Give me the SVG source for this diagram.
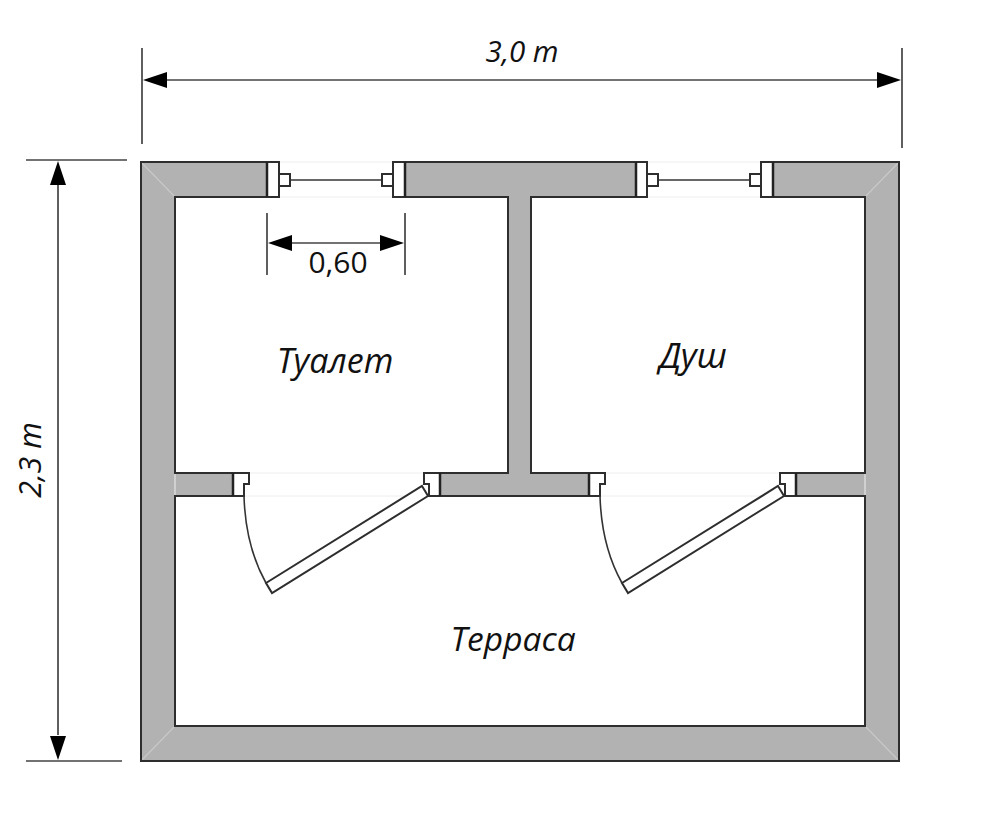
<svg xmlns="http://www.w3.org/2000/svg" width="1000" height="824" viewBox="0 0 1000 824">
<style>
.wall{fill:#b2b2b2;stroke:none}
.edge{fill:none;stroke:#2e2e2e;stroke-width:2}
.thick{fill:none;stroke:#222;stroke-width:2.5}
.jamb{fill:#fff;stroke:#2e2e2e;stroke-width:2}
.thin{fill:none;stroke:#333;stroke-width:1.6}
.faint{fill:none;stroke:#eeeeee;stroke-width:1}
.miter{fill:none;stroke:#c8c8c8;stroke-width:1.2}
.dim{fill:none;stroke:#444;stroke-width:1.7}
.head{fill:#000}
text{font-family:"Open Sans","DejaVu Sans",sans-serif;fill:#111}
.lbl{font-style:italic;text-anchor:middle}
</style>
<g id="walls">
<path class="wall" fill-rule="evenodd" d="M141 162H899V761H141ZM175 197V473H508V197ZM531 197V473H865V197ZM175 496V726H865V496Z"/>
<rect x="267" y="160" width="138" height="39" fill="#fff"/>
<rect x="636" y="160" width="137" height="39" fill="#fff"/>
<rect x="233" y="471" width="207" height="27" fill="#fff"/>
<rect x="589" y="471" width="207" height="27" fill="#fff"/>
<path class="miter" d="M141 162L175 197M899 162L865 197M141 761L175 726M899 761L865 726"/>
<path class="faint" d="M175 473V496M865 473V496"/>
<path class="edge" d="M267 162H141V761H899V162H773"/>
<path class="edge" d="M405 162H636"/>
<path class="edge" d="M267 197H175V473H233M233 496H175V726H865V496H796M796 473H865V197H773M636 197H531V473H589M589 496H440M440 473H508V197H405"/>
</g>
<g id="window-left">
<path class="faint" d="M279 162H393M279 197H393"/>
<rect class="jamb" x="267" y="162" width="12" height="35"/>
<rect class="jamb" x="393" y="162" width="12" height="35"/>
<rect class="jamb" x="279" y="174" width="11" height="12"/>
<rect class="jamb" x="382" y="174" width="11" height="12"/>
<path class="thin" d="M290 180H382"/>
<path class="thick" d="M267 162V197M405 162V197"/>
</g>
<g id="window-right">
<path class="faint" d="M647 162H761M647 197H761"/>
<rect class="jamb" x="636" y="162" width="11" height="35"/>
<rect class="jamb" x="761" y="162" width="12" height="35"/>
<rect class="jamb" x="647" y="174" width="11" height="12"/>
<rect class="jamb" x="750" y="174" width="11" height="12"/>
<path class="thin" d="M658 180H750"/>
<path class="thick" d="M636 162V197M773 162V197"/>
</g>
<g id="door-left">
<path class="faint" d="M249 473H424M244 496H429"/>
<path class="jamb" d="M233 473H249V484H244V496H233Z"/>
<path class="jamb" d="M440 473H424V484H429V496H440Z"/>
<path class="thick" d="M233 473V496M440 473V496"/>
<path class="jamb" d="M422 486L428 496L272 593L266 583Z"/>
<path class="thin" d="M244 496C245 530 252 558 266 583"/>
</g>
<g id="door-right">
<path class="faint" d="M605 473H780M600 496H785"/>
<path class="jamb" d="M589 473H605V484H600V496H589Z"/>
<path class="jamb" d="M796 473H780V484H785V496H796Z"/>
<path class="thick" d="M589 473V496M796 473V496"/>
<path class="jamb" d="M778 486L784 496L628 593L622 583Z"/>
<path class="thin" d="M600 496C601 530 608 558 622 583"/>
</g>
<g id="dimensions">
<path class="dim" d="M142 48V144M902 48V148M150 80H895"/>
<path class="head" d="M143 80L167 72V88ZM901 80L877 72V88Z"/>
<path class="dim" d="M26 160H127M26 761H122M58 185V735"/>
<path class="head" d="M58 161L66 185H50ZM58 760L66 736H50Z"/>
<path class="dim" d="M267 213V275M405 213V275M285 243H388"/>
<path class="head" d="M268 243L292 235V251ZM404 243L380 235V251Z"/>
</g>
<g id="labels">
<text class="lbl" x="522" y="62" style="font-size:29.5px">3,0 m</text>
<text x="338" y="273" style="font-size:30px;text-anchor:middle">0,60</text>
<text class="lbl" transform="translate(41 460) rotate(-90)" style="font-size:30.5px">2,3 m</text>
<text class="lbl" x="335" y="373" style="font-size:34px">Туалет</text>
<text class="lbl" x="693" y="368" style="font-size:34.5px">Душ</text>
<text class="lbl" x="513" y="651" style="font-size:33.5px">Терраса</text>
</g>
</svg>
